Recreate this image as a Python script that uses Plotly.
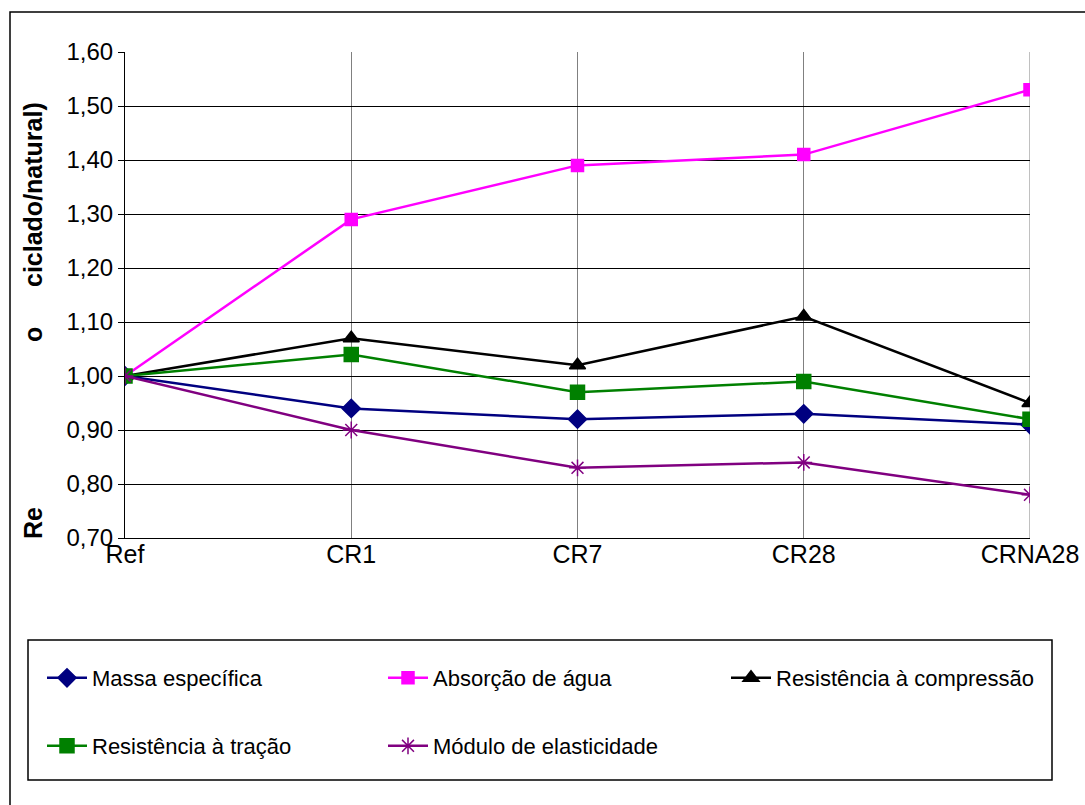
import plotly.graph_objects as go

# Categories and ratio values (recycled / natural)
categorias = ["Ref", "CR1", "CR7", "CR28", "CRNA28"]
massa_especifica = [1.00, 0.94, 0.92, 0.93, 0.91]
absorcao_agua = [1.00, 1.29, 1.39, 1.41, 1.53]
resist_compressao = [1.00, 1.07, 1.02, 1.11, 0.95]
resist_tracao = [1.00, 1.04, 0.97, 0.99, 0.92]
modulo_elasticidade = [1.00, 0.90, 0.83, 0.84, 0.78]
y_ticks = [0.70, 0.80, 0.90, 1.00, 1.10, 1.20, 1.30, 1.40, 1.50, 1.60]

FONT = "Liberation Sans, Arial, sans-serif"
W, H = 1085, 805
L, R, T, B = 125, 55, 52, 267
PW, PH = W - L - R, H - T - B


def px_x(px):
    return (px - L) / PW


def px_y(py):
    return (H - B - py) / PH


# name, values, colour, marker, size, legend
series = [
    ("Massa específica", massa_especifica, "#000080", "diamond", 14, "legend"),
    ("Absorção de água", absorcao_agua, "#FF00FF", "square", 12, "legend2"),
    ("Resistência à compressão", resist_compressao, "#000000", "triangle-up", 14, "legend3"),
    ("Resistência à tração", resist_tracao, "#008000", "square", 14, "legend4"),
    ("Módulo de elasticidade", modulo_elasticidade, "#800080", "asterisk-open", 14, "legend5"),
]
# legend cell positions (pixels): three columns, two rows
legend_pos = {
    "legend": (42, 678), "legend2": (383, 678), "legend3": (726, 678),
    "legend4": (42, 746), "legend5": (383, 746),
}

fig = go.Figure()
for nome, vals, cor, simbolo, tam, leg in series:
    fig.add_trace(go.Scatter(
        x=list(range(len(categorias))), y=vals, name=nome, mode="lines+markers",
        line=dict(color=cor, width=2.5),
        marker=dict(symbol=simbolo, size=tam, color=cor,
                    line=dict(color=cor, width=1.5)),
        legend=leg,
    ))

legends = {}
for key, (lx, ly) in legend_pos.items():
    legends[key] = dict(
        orientation="h", xanchor="left", yanchor="middle",
        x=px_x(lx), y=px_y(ly),
        font=dict(family=FONT, size=22, color="black"),
        bgcolor="rgba(0,0,0,0)", borderwidth=0, itemwidth=40,
    )

fig.update_layout(
    width=W, height=H, autosize=False,
    margin=dict(l=L, r=R, t=T, b=B, autoexpand=False),
    paper_bgcolor="white", plot_bgcolor="white",
    font=dict(family=FONT, size=24, color="black"),
    showlegend=True,
    **legends,
    xaxis=dict(
        range=[0, len(categorias) - 1],
        tickmode="array", tickvals=list(range(len(categorias))), ticktext=categorias,
        showgrid=True, gridcolor="#808080", gridwidth=1,
        showline=True, linecolor="black", linewidth=1,
        ticks="", tickfont=dict(family=FONT, size=25),
        ticklabelstandoff=-6,
        zeroline=False,
    ),
    yaxis=dict(
        range=[0.70, 1.60],
        tickmode="array", tickvals=y_ticks,
        ticktext=[f"{v:.2f}".replace(".", ",") for v in y_ticks],
        showgrid=True, gridcolor="black", gridwidth=1,
        showline=True, linecolor="black", linewidth=1,
        ticks="outside", ticklen=6, tickcolor="black",
        tickfont=dict(family=FONT, size=24),
        zeroline=False,
    ),
    shapes=[
        # right-hand vertical gridline at the last category
        dict(type="line", xref="x", yref="paper", x0=len(categorias) - 1,
             x1=len(categorias) - 1, y0=0, y1=1, layer="below",
             line=dict(color="#808080", width=1)),
        # outer chart frame
        dict(type="path", xref="paper", yref="paper",
             path=f"M {px_x(1090)},{px_y(12)} L {px_x(10)},{px_y(12)} L {px_x(10)},{px_y(810)}",
             line=dict(color="black", width=1.5)),
        # legend box
        dict(type="rect", xref="paper", yref="paper",
             x0=px_x(28), x1=px_x(1052), y0=px_y(780), y1=px_y(640),
             line=dict(color="black", width=1.5), fillcolor="rgba(0,0,0,0)"),
    ],
    annotations=[
        dict(text=t, xref="paper", yref="paper", x=px_x(33), y=px_y(yc),
             textangle=-90, showarrow=False, xanchor="center", yanchor="middle",
             font=dict(family=FONT, size=25, color="black", weight="bold"))
        for t, yc in [("Re", 523), ("o", 335), ("ciclado/natural)", 195)]
    ],
)

fig.write_html("out.html")
